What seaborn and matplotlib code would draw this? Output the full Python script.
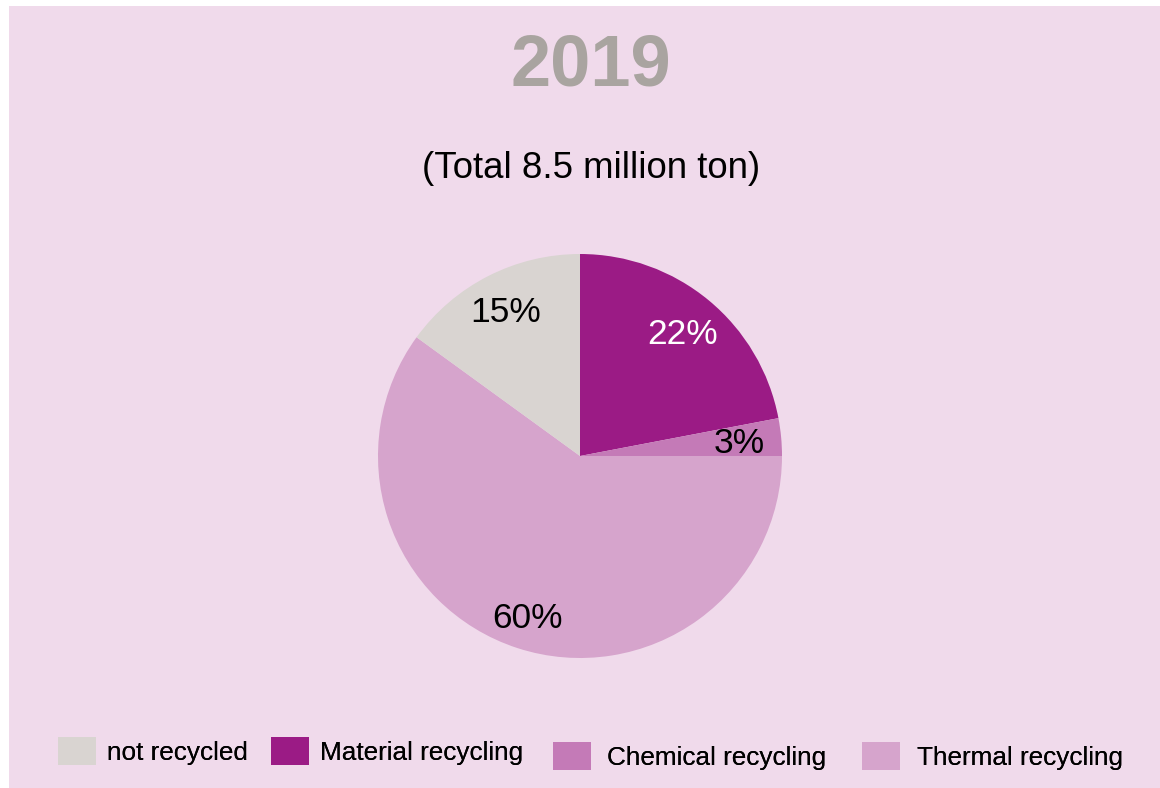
import matplotlib
matplotlib.use("Agg")
import matplotlib.pyplot as plt
import seaborn as sns
import numpy as np
from matplotlib.patches import Rectangle, Patch

sns.set_theme(style="white")
plt.rcParams['font.family'] = ['Liberation Sans', 'DejaVu Sans']

# Data
categories = ["Material recycling", "Chemical recycling", "Thermal recycling", "not recycled"]
shares = [22, 3, 60, 15]
labels_pct = ["22%", "3%", "60%", "15%"]
colors = ["#9B1B85", "#C47AB7", "#D6A4CC", "#D9D4D1"]
label_colors = ["white", "black", "black", "black"]
legend_order = ["not recycled", "Material recycling", "Chemical recycling", "Thermal recycling"]
title = "2019"
subtitle = "(Total 8.5 million ton)"

W, H = 1160, 788
fig = plt.figure(figsize=(W / 100, H / 100), dpi=100, facecolor="white")

# pink panel
fig.patches.append(Rectangle((9 / W, 0), 1 - 9 / W, 1 - 6 / H, transform=fig.transFigure,
                             facecolor="#F0DAEB", edgecolor="none", zorder=-5))

cx, cy, r = 580, 456, 202
ax = fig.add_axes([(cx - r) / W, (H - cy - r) / H, 2 * r / W, 2 * r / H])
ax.set_facecolor("none")
ax.set_zorder(2)
wedges, texts = ax.pie(shares, colors=colors, startangle=90, counterclock=False,
                       wedgeprops=dict(linewidth=0), radius=1)
pct_dist = [0.795, 0.79, 0.835, 0.81]
for w, lab, col, d in zip(wedges, labels_pct, label_colors, pct_dist):
    mid = np.deg2rad((w.theta1 + w.theta2) / 2)
    ax.text(d * np.cos(mid), d * np.sin(mid) - 0.012, lab, ha="center", va="center",
            fontsize=25.5, color=col)
ax.set_xlim(-1, 1)
ax.set_ylim(-1, 1)
ax.axis("off")

fig.text(591 / W, 1 - 67 / H, title, ha="center", va="center", fontsize=52,
         fontweight="bold", color="#A9A4A0")
fig.text(591 / W, 1 - 168 / H, subtitle, ha="center", va="center", fontsize=26.4,
         color="black")

# legend items placed individually (left edge of swatch, vertical centre)
leg_pos = [(58, 751), (271, 751), (553, 756), (862, 756)]
leg_pad = [0.42, 0.42, 0.6, 0.65]
for name, (lx, ly), pad in zip(legend_order, leg_pos, leg_pad):
    h = Patch(facecolor=colors[categories.index(name)], edgecolor="none")
    lg = fig.legend([h], [name], loc="center left", bbox_to_anchor=(lx / W, 1 - ly / H),
                    frameon=False, fontsize=18.8, handlelength=1.46, handleheight=1.25,
                    handletextpad=pad, borderpad=0, borderaxespad=0, labelcolor="black")
    fig.add_artist(lg)

fig.savefig("out.png", dpi=100, facecolor="white")
